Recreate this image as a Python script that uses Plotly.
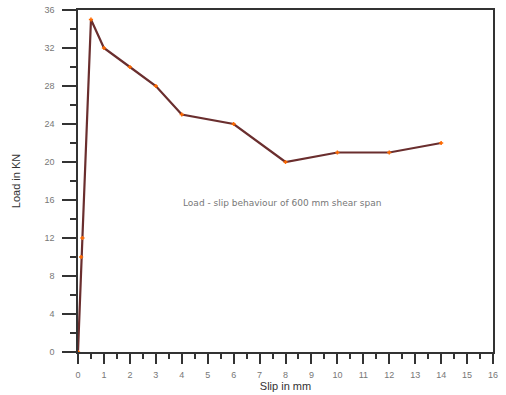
import plotly.graph_objects as go

# Load-slip test readings
slip_mm = [0, 0.12, 0.17, 0.5, 1, 2, 3, 4, 6, 8, 10, 12, 14]
load_kn = [0, 10, 12, 35, 32, 30, 28, 25, 24, 20, 21, 21, 22]

x_ticks = list(range(0, 17))
y_ticks = list(range(0, 37, 4))

fig = go.Figure()
fig.add_trace(go.Scatter(
    x=slip_mm, y=load_kn, mode="lines+markers",
    line=dict(color="#6a2e2e", width=2.2),
    marker=dict(symbol="cross-thin", size=3, color="#ff6a00",
                line=dict(color="#ff6a00", width=1.5)),
    showlegend=False,
))

fig.add_annotation(
    x=7.9, y=15.7, text="Load - slip behaviour of 600 mm shear span",
    showarrow=False, font=dict(size=9, color="#777777",
                               family="DejaVu Sans, Verdana, sans-serif"),
)

axis_common = dict(
    showgrid=False, zeroline=False, showline=True, linecolor="#333333",
    linewidth=1.5, mirror=True, ticks="outside", tickcolor="#333333",
    tickwidth=1.5, tickfont=dict(size=9, color="#777777"),
    automargin=False,
)

fig.update_xaxes(
    range=[0, 16], tickvals=x_ticks, ticklen=10, ticklabelstandoff=3,
    minor=dict(dtick=0.5, ticks="outside", ticklen=5, tickcolor="#333333",
               tickwidth=1.5),
    title=dict(text="Slip in mm", standoff=4,
               font=dict(size=11, color="#333333")),
    **axis_common,
)
fig.update_yaxes(
    range=[0, 36], tickvals=y_ticks, ticklen=14, ticklabelstandoff=6,
    minor=dict(dtick=2, ticks="outside", ticklen=6, tickcolor="#333333",
               tickwidth=1.5),
    title=dict(text="Load in KN", standoff=22,
               font=dict(size=11, color="#333333")),
    **axis_common,
)

fig.update_layout(
    width=506, height=395,
    margin=dict(l=78, r=13, t=10, b=43),
    plot_bgcolor="white", paper_bgcolor="white",
    font=dict(family="Liberation Sans, Arial, sans-serif"),
)

fig.write_html("out.html")
